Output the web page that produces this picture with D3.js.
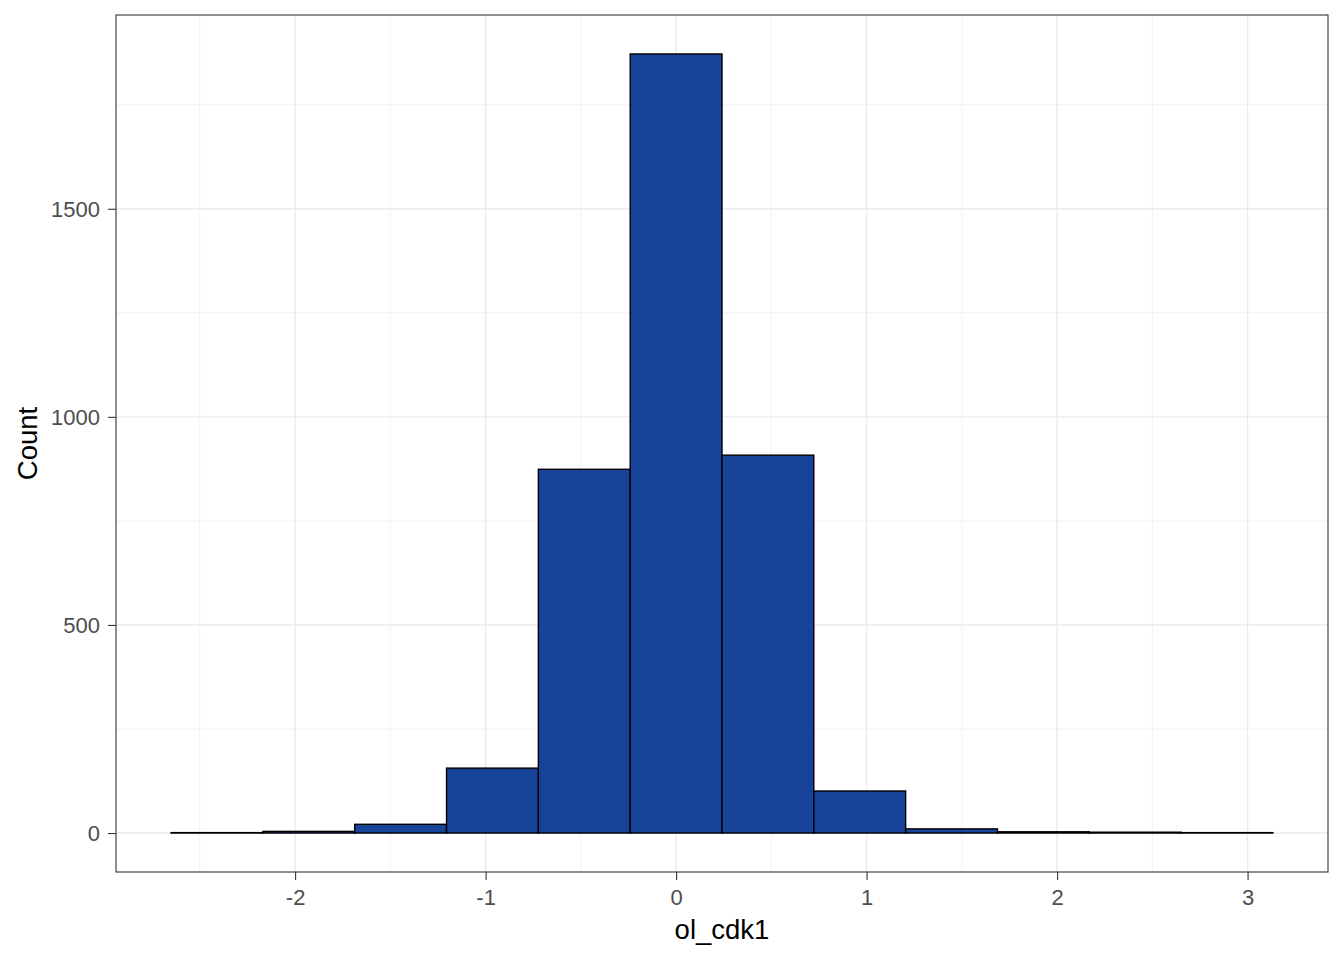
<!DOCTYPE html>
<html><head><meta charset="utf-8">
<script src="https://cdn.jsdelivr.net/npm/d3@7"></script>
<style>body{margin:0;background:#fff}text{font-family:"Liberation Sans",Arial,sans-serif}</style>
</head><body>
<svg id="c" width="1344" height="960"></svg>
<script>
// Histogram bins (ol_cdk1): first lower edge, bin width, counts
const binStart = -2.651, binWidth = 0.482;
const counts = [1, 4, 21, 156, 874, 1872, 908, 101, 10, 3, 2, 1];
const xTicks = [-2, -1, 0, 1, 2, 3];
const yTicks = [0, 500, 1000, 1500];
const xLabel = "ol_cdk1", yLabel = "Count";

const bins = counts.map((c, i) => ({x0: binStart + i * binWidth, x1: binStart + (i + 1) * binWidth, n: c}));

const svg = d3.select("#c");
const L = 116, R = 1328, T = 15, B = 872;
const xmin = bins[0].x0, xmax = bins[bins.length - 1].x1;
const xr = xmax - xmin;
const x = d3.scaleLinear().domain([xmin - 0.05 * xr, xmax + 0.05 * xr]).range([L, R]);
const ymax = d3.max(counts);
const y = d3.scaleLinear().domain([-0.05 * ymax, ymax * 1.05]).range([B, T]);

const g = svg.append("g");
// minor grid
const xMinor = xTicks.slice(0, -1).map((t, i) => (t + xTicks[i + 1]) / 2).concat([xTicks[0] - 0.5, xTicks[xTicks.length - 1] + 0.5]).filter(v => x(v) > L && x(v) < R);
const yMinor = yTicks.slice(0, -1).map((t, i) => (t + yTicks[i + 1]) / 2).concat([yTicks[yTicks.length - 1] + 250]).filter(v => y(v) > T && y(v) < B);
g.selectAll(".xm").data(xMinor).join("line").attr("x1", d => x(d)).attr("x2", d => x(d)).attr("y1", T).attr("y2", B).attr("stroke", "#ebebeb").attr("stroke-width", 0.7);
g.selectAll(".ym").data(yMinor).join("line").attr("y1", d => y(d)).attr("y2", d => y(d)).attr("x1", L).attr("x2", R).attr("stroke", "#ebebeb").attr("stroke-width", 0.7);
g.selectAll(".xg").data(xTicks).join("line").attr("x1", d => x(d)).attr("x2", d => x(d)).attr("y1", T).attr("y2", B).attr("stroke", "#ebebeb").attr("stroke-width", 1.4);
g.selectAll(".yg").data(yTicks).join("line").attr("y1", d => y(d)).attr("y2", d => y(d)).attr("x1", L).attr("x2", R).attr("stroke", "#ebebeb").attr("stroke-width", 1.4);

// bars
g.selectAll(".bar").data(bins).join("rect")
  .attr("x", d => x(d.x0)).attr("width", d => x(d.x1) - x(d.x0))
  .attr("y", d => y(d.n)).attr("height", d => y(0) - y(d.n))
  .attr("fill", "#18439a").attr("stroke", "#000").attr("stroke-width", 1.4);

// panel border
g.append("rect").attr("x", L).attr("y", T).attr("width", R - L).attr("height", B - T).attr("fill", "none").attr("stroke", "#333").attr("stroke-width", 1.1);

// axes
const fmt = d => String(d);
const xa = svg.append("g").attr("transform", `translate(0,${B})`)
  .call(d3.axisBottom(x).tickValues(xTicks).tickSize(8).tickPadding(9).tickFormat(fmt));
const ya = svg.append("g").attr("transform", `translate(${L},0)`)
  .call(d3.axisLeft(y).tickValues(yTicks).tickSize(8).tickPadding(8).tickFormat(fmt));
[xa, ya].forEach(a => {
  a.select(".domain").remove();
  a.selectAll(".tick line").attr("stroke", "#333").attr("stroke-width", 1.1);
  a.selectAll(".tick text").attr("fill", "#4d4d4d").style("font-size", "22px").style("font-family", "Liberation Sans, Arial, sans-serif");
});
ya.selectAll(".tick text").attr("dy", "0.35em");

svg.append("text").attr("x", (L + R) / 2).attr("y", 939).attr("text-anchor", "middle").style("font-size", "27.5px").attr("fill", "#000").text(xLabel);
svg.append("text").attr("transform", `translate(37,${(T + B) / 2}) rotate(-90)`).attr("text-anchor", "middle").style("font-size", "27.5px").attr("fill", "#000").text(yLabel);
</script>
</body></html>
